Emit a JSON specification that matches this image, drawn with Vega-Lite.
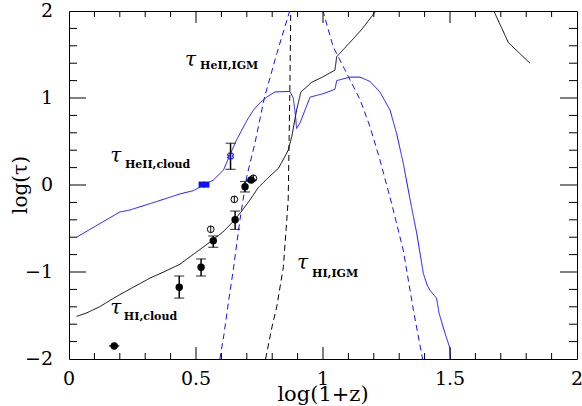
{
  "$schema": "https://vega.github.io/schema/vega-lite/v6.json",
  "width": 508,
  "height": 348,
  "autosize": "none",
  "padding": {"left": 69, "top": 11, "right": 5, "bottom": 47},
  "background": "white",
  "config": {"view": {"stroke": "black", "strokeWidth": 1}},
  "datasets": {
    "curves": [
      {"s": "hic", "o": 1, "x": 0.03, "y": -1.51},
      {"s": "hic", "o": 2, "x": 0.07, "y": -1.47},
      {"s": "hic", "o": 3, "x": 0.12, "y": -1.40},
      {"s": "hic", "o": 4, "x": 0.188, "y": -1.28},
      {"s": "hic", "o": 5, "x": 0.25, "y": -1.18},
      {"s": "hic", "o": 6, "x": 0.319, "y": -1.07},
      {"s": "hic", "o": 7, "x": 0.38, "y": -0.99},
      {"s": "hic", "o": 8, "x": 0.437, "y": -0.91},
      {"s": "hic", "o": 9, "x": 0.516, "y": -0.74},
      {"s": "hic", "o": 10, "x": 0.567, "y": -0.63},
      {"s": "hic", "o": 11, "x": 0.61, "y": -0.53},
      {"s": "hic", "o": 12, "x": 0.646, "y": -0.42},
      {"s": "hic", "o": 13, "x": 0.68, "y": -0.30},
      {"s": "hic", "o": 14, "x": 0.713, "y": -0.17},
      {"s": "hic", "o": 15, "x": 0.745, "y": -0.03},
      {"s": "hic", "o": 16, "x": 0.79, "y": 0.10},
      {"s": "hic", "o": 17, "x": 0.824, "y": 0.19},
      {"s": "hic", "o": 18, "x": 0.845, "y": 0.30},
      {"s": "hic", "o": 19, "x": 0.863, "y": 0.40},
      {"s": "hic", "o": 20, "x": 0.877, "y": 0.555},
      {"s": "hic", "o": 21, "x": 0.896, "y": 0.86},
      {"s": "hic", "o": 22, "x": 0.913, "y": 1.07},
      {"s": "hic", "o": 23, "x": 0.929, "y": 1.11},
      {"s": "hic", "o": 24, "x": 0.955, "y": 1.18},
      {"s": "hic", "o": 25, "x": 1.001, "y": 1.245},
      {"s": "hic", "o": 26, "x": 1.047, "y": 1.32},
      {"s": "hic", "o": 27, "x": 1.054, "y": 1.475},
      {"s": "hic", "o": 28, "x": 1.1, "y": 1.62},
      {"s": "hic", "o": 29, "x": 1.15, "y": 1.78},
      {"s": "hic", "o": 30, "x": 1.211, "y": 2.01},
      {"s": "hic2", "o": 1, "x": 1.671, "y": 2.01},
      {"s": "hic2", "o": 2, "x": 1.73, "y": 1.636},
      {"s": "hic2", "o": 3, "x": 1.815, "y": 1.40},
      {"s": "hec", "o": 1, "x": 0.03, "y": -0.60},
      {"s": "hec", "o": 2, "x": 0.1, "y": -0.48},
      {"s": "hec", "o": 3, "x": 0.2, "y": -0.31},
      {"s": "hec", "o": 4, "x": 0.24, "y": -0.287},
      {"s": "hec", "o": 5, "x": 0.345, "y": -0.19},
      {"s": "hec", "o": 6, "x": 0.44, "y": -0.10},
      {"s": "hec", "o": 7, "x": 0.49, "y": -0.065},
      {"s": "hec", "o": 8, "x": 0.53, "y": 0.0},
      {"s": "hec", "o": 9, "x": 0.568, "y": 0.057},
      {"s": "hec", "o": 10, "x": 0.608, "y": 0.17},
      {"s": "hec", "o": 11, "x": 0.634, "y": 0.35},
      {"s": "hec", "o": 12, "x": 0.66, "y": 0.52},
      {"s": "hec", "o": 13, "x": 0.673, "y": 0.59},
      {"s": "hec", "o": 14, "x": 0.70, "y": 0.74},
      {"s": "hec", "o": 15, "x": 0.726, "y": 0.86},
      {"s": "hec", "o": 16, "x": 0.75, "y": 0.94},
      {"s": "hec", "o": 17, "x": 0.778, "y": 1.01},
      {"s": "hec", "o": 18, "x": 0.811, "y": 1.07},
      {"s": "hec", "o": 19, "x": 0.87, "y": 1.075},
      {"s": "hec", "o": 20, "x": 0.883, "y": 1.0},
      {"s": "hec", "o": 21, "x": 0.892, "y": 0.79},
      {"s": "hec", "o": 22, "x": 0.896, "y": 0.65},
      {"s": "hec", "o": 23, "x": 0.909, "y": 0.71},
      {"s": "hec", "o": 24, "x": 0.929, "y": 0.86},
      {"s": "hec", "o": 25, "x": 0.949, "y": 1.01},
      {"s": "hec", "o": 26, "x": 1.001, "y": 1.05},
      {"s": "hec", "o": 27, "x": 1.047, "y": 1.10},
      {"s": "hec", "o": 28, "x": 1.054, "y": 1.20},
      {"s": "hec", "o": 29, "x": 1.106, "y": 1.24},
      {"s": "hec", "o": 30, "x": 1.146, "y": 1.24},
      {"s": "hec", "o": 31, "x": 1.185, "y": 1.19},
      {"s": "hec", "o": 32, "x": 1.224, "y": 1.07},
      {"s": "hec", "o": 33, "x": 1.264, "y": 0.86},
      {"s": "hec", "o": 34, "x": 1.29, "y": 0.59},
      {"s": "hec", "o": 35, "x": 1.316, "y": 0.25},
      {"s": "hec", "o": 36, "x": 1.343, "y": -0.17},
      {"s": "hec", "o": 37, "x": 1.369, "y": -0.555},
      {"s": "hec", "o": 38, "x": 1.395, "y": -1.015},
      {"s": "hec", "o": 39, "x": 1.41, "y": -1.15},
      {"s": "hec", "o": 40, "x": 1.421, "y": -1.21},
      {"s": "hec", "o": 41, "x": 1.441, "y": -1.28},
      {"s": "hec", "o": 42, "x": 1.447, "y": -1.30},
      {"s": "hec", "o": 43, "x": 1.457, "y": -1.475},
      {"s": "hec", "o": 44, "x": 1.48, "y": -1.7},
      {"s": "hec", "o": 45, "x": 1.5, "y": -1.88},
      {"s": "hec", "o": 46, "x": 1.502, "y": -2.0},
      {"s": "hei1", "o": 1, "x": 0.594, "y": -2.0},
      {"s": "hei1", "o": 2, "x": 0.61, "y": -1.72},
      {"s": "hei1", "o": 3, "x": 0.627, "y": -1.36},
      {"s": "hei1", "o": 4, "x": 0.647, "y": -0.97},
      {"s": "hei1", "o": 5, "x": 0.673, "y": -0.40},
      {"s": "hei1", "o": 6, "x": 0.70, "y": 0.10},
      {"s": "hei1", "o": 7, "x": 0.732, "y": 0.48},
      {"s": "hei1", "o": 8, "x": 0.769, "y": 1.0},
      {"s": "hei1", "o": 9, "x": 0.818, "y": 1.51},
      {"s": "hei1", "o": 10, "x": 0.870, "y": 2.01},
      {"s": "hei2", "o": 1, "x": 0.999, "y": 2.01},
      {"s": "hei2", "o": 2, "x": 1.04, "y": 1.59},
      {"s": "hei2", "o": 3, "x": 1.1, "y": 1.245},
      {"s": "hei2", "o": 4, "x": 1.146, "y": 0.98},
      {"s": "hei2", "o": 5, "x": 1.185, "y": 0.67},
      {"s": "hei2", "o": 6, "x": 1.224, "y": 0.29},
      {"s": "hei2", "o": 7, "x": 1.27, "y": -0.21},
      {"s": "hei2", "o": 8, "x": 1.316, "y": -0.75},
      {"s": "hei2", "o": 9, "x": 1.356, "y": -1.44},
      {"s": "hei2", "o": 10, "x": 1.392, "y": -2.0},
      {"s": "hii", "o": 1, "x": 0.774, "y": -2.0},
      {"s": "hii", "o": 2, "x": 0.80, "y": -1.62},
      {"s": "hii", "o": 3, "x": 0.818, "y": -1.40},
      {"s": "hii", "o": 4, "x": 0.835, "y": -1.10},
      {"s": "hii", "o": 5, "x": 0.844, "y": -0.94},
      {"s": "hii", "o": 6, "x": 0.855, "y": -0.50},
      {"s": "hii", "o": 7, "x": 0.863, "y": -0.17},
      {"s": "hii", "o": 8, "x": 0.866, "y": 0.40},
      {"s": "hii", "o": 9, "x": 0.870, "y": 1.2},
      {"s": "hii", "o": 10, "x": 0.873, "y": 2.01}
    ],
    "pts": [
      {"k": "hi", "x": 0.178, "y": -1.85, "lo": -1.85, "hi": -1.85},
      {"k": "hi", "x": 0.434, "y": -1.176, "lo": -1.30, "hi": -1.046},
      {"k": "hi", "x": 0.52, "y": -0.946, "lo": -1.046, "hi": -0.85},
      {"k": "hi", "x": 0.568, "y": -0.64, "lo": -0.716, "hi": -0.586},
      {"k": "hi", "x": 0.654, "y": -0.40, "lo": -0.51, "hi": -0.30},
      {"k": "hi", "x": 0.693, "y": -0.02, "lo": -0.08, "hi": 0.04},
      {"k": "hi", "x": 0.717, "y": 0.057, "lo": 0.057, "hi": 0.057},
      {"k": "he", "x": 0.636, "y": 0.333, "lo": 0.18, "hi": 0.48}
    ],
    "open": [
      {"x": 0.558, "y": -0.509},
      {"x": 0.651, "y": -0.165},
      {"x": 0.726, "y": 0.077}
    ],
    "sq": [
      {"x": 0.522, "y": 0.005},
      {"x": 0.541, "y": 0.005}
    ],
    "xt": [
      {"v": 0.5, "major": 1}, {"v": 1, "major": 1}, {"v": 1.5, "major": 1},
      {"v": 0.1, "major": 0}, {"v": 0.2, "major": 0}, {"v": 0.3, "major": 0}, {"v": 0.4, "major": 0},
      {"v": 0.6, "major": 0}, {"v": 0.7, "major": 0}, {"v": 0.8, "major": 0}, {"v": 0.9, "major": 0},
      {"v": 1.1, "major": 0}, {"v": 1.2, "major": 0}, {"v": 1.3, "major": 0}, {"v": 1.4, "major": 0},
      {"v": 1.6, "major": 0}, {"v": 1.7, "major": 0}, {"v": 1.8, "major": 0}, {"v": 1.9, "major": 0}
    ],
    "yt": [
      {"v": -1, "major": 1}, {"v": 0, "major": 1}, {"v": 1, "major": 1},
      {"v": -1.8, "major": 0}, {"v": -1.6, "major": 0}, {"v": -1.4, "major": 0}, {"v": -1.2, "major": 0},
      {"v": -0.8, "major": 0}, {"v": -0.6, "major": 0}, {"v": -0.4, "major": 0}, {"v": -0.2, "major": 0},
      {"v": 0.2, "major": 0}, {"v": 0.4, "major": 0}, {"v": 0.6, "major": 0}, {"v": 0.8, "major": 0},
      {"v": 1.2, "major": 0}, {"v": 1.4, "major": 0}, {"v": 1.6, "major": 0}, {"v": 1.8, "major": 0}
    ],
    "xl": [
      {"v": 0, "t": "0"}, {"v": 0.5, "t": "0.5"}, {"v": 1, "t": "1"}, {"v": 1.5, "t": "1.5"}, {"v": 2, "t": "2"}
    ],
    "yl": [
      {"v": -2, "t": "−2"}, {"v": -1, "t": "−1"}, {"v": 0, "t": "0"}, {"v": 1, "t": "1"}, {"v": 2, "t": "2"}
    ],
    "titles": [
      {"k": "x", "t": "log(1+z)"},
      {"k": "y", "t": "log(τ)"}
    ],
    "taus": [
      {"x": 0.457, "y": 1.37, "t": "τ", "sub": "HeII,IGM", "xs": 0.516, "ys": 1.33},
      {"x": 0.162, "y": 0.26, "t": "τ", "sub": "HeII,cloud", "xs": 0.22, "ys": 0.20},
      {"x": 0.162, "y": -1.48, "t": "τ", "sub": "HI,cloud", "xs": 0.216, "ys": -1.55},
      {"x": 0.898, "y": -0.97, "t": "τ", "sub": "HI,IGM", "xs": 0.957, "ys": -1.06}
    ]
  },
  "layer": [
    {
      "data": {"name": "curves"},
      "mark": {"type": "line", "clip": true, "strokeWidth": 1},
      "encoding": {
        "x": {"field": "x", "type": "quantitative", "axis": null, "scale": {"domain": [0, 2], "nice": false, "zero": false}},
        "y": {"field": "y", "type": "quantitative", "axis": null, "scale": {"domain": [-2, 2], "nice": false, "zero": false}},
        "detail": {"field": "s"},
        "order": {"field": "o", "type": "quantitative"},
        "color": {
          "field": "s", "type": "nominal", "legend": null,
          "scale": {"domain": ["hic", "hic2", "hec", "hei1", "hei2", "hii"], "range": ["black", "black", "#1010ff", "#1010ff", "#1010ff", "black"]}
        },
        "strokeDash": {
          "field": "s", "type": "nominal", "legend": null,
          "scale": {"domain": ["hic", "hic2", "hec", "hei1", "hei2", "hii"], "range": [[1, 0], [1, 0], [1, 0], [6, 4], [6, 4], [6, 4]]}
        }
      }
    },
    {
      "data": {"name": "xt"},
      "transform": [{"filter": "datum.major == 1"}],
      "mark": {"type": "tick", "orient": "vertical", "size": 12, "thickness": 1, "color": "black", "opacity": 1, "yOffset": -6},
      "encoding": {
        "x": {"field": "v", "type": "quantitative", "axis": null},
        "y": {"datum": -2, "type": "quantitative", "axis": null}
      }
    },
    {
      "data": {"name": "xt"},
      "transform": [{"filter": "datum.major == 1"}],
      "mark": {"type": "tick", "orient": "vertical", "size": 12, "thickness": 1, "color": "black", "opacity": 1, "yOffset": 6},
      "encoding": {
        "x": {"field": "v", "type": "quantitative", "axis": null},
        "y": {"datum": 2, "type": "quantitative", "axis": null}
      }
    },
    {
      "data": {"name": "xt"},
      "transform": [{"filter": "datum.major == 0"}],
      "mark": {"type": "tick", "orient": "vertical", "size": 6, "thickness": 1, "color": "black", "opacity": 1, "yOffset": -3},
      "encoding": {
        "x": {"field": "v", "type": "quantitative", "axis": null},
        "y": {"datum": -2, "type": "quantitative", "axis": null}
      }
    },
    {
      "data": {"name": "xt"},
      "transform": [{"filter": "datum.major == 0"}],
      "mark": {"type": "tick", "orient": "vertical", "size": 6, "thickness": 1, "color": "black", "opacity": 1, "yOffset": 3},
      "encoding": {
        "x": {"field": "v", "type": "quantitative", "axis": null},
        "y": {"datum": 2, "type": "quantitative", "axis": null}
      }
    },
    {
      "data": {"name": "yt"},
      "transform": [{"filter": "datum.major == 1"}],
      "mark": {"type": "tick", "orient": "horizontal", "size": 17, "thickness": 1, "color": "black", "opacity": 1, "xOffset": 8.5},
      "encoding": {
        "y": {"field": "v", "type": "quantitative", "axis": null},
        "x": {"datum": 0, "type": "quantitative", "axis": null}
      }
    },
    {
      "data": {"name": "yt"},
      "transform": [{"filter": "datum.major == 1"}],
      "mark": {"type": "tick", "orient": "horizontal", "size": 17, "thickness": 1, "color": "black", "opacity": 1, "xOffset": -8.5},
      "encoding": {
        "y": {"field": "v", "type": "quantitative", "axis": null},
        "x": {"datum": 2, "type": "quantitative", "axis": null}
      }
    },
    {
      "data": {"name": "yt"},
      "transform": [{"filter": "datum.major == 0"}],
      "mark": {"type": "tick", "orient": "horizontal", "size": 8, "thickness": 1, "color": "black", "opacity": 1, "xOffset": 4},
      "encoding": {
        "y": {"field": "v", "type": "quantitative", "axis": null},
        "x": {"datum": 0, "type": "quantitative", "axis": null}
      }
    },
    {
      "data": {"name": "yt"},
      "transform": [{"filter": "datum.major == 0"}],
      "mark": {"type": "tick", "orient": "horizontal", "size": 8, "thickness": 1, "color": "black", "opacity": 1, "xOffset": -4},
      "encoding": {
        "y": {"field": "v", "type": "quantitative", "axis": null},
        "x": {"datum": 2, "type": "quantitative", "axis": null}
      }
    },
    {
      "data": {"name": "xl"},
      "mark": {"type": "text", "font": "DejaVu Serif", "fontSize": 19, "color": "black", "align": "center", "baseline": "top", "dy": 11},
      "encoding": {
        "x": {"field": "v", "type": "quantitative", "axis": null},
        "y": {"datum": -2, "type": "quantitative", "axis": null},
        "text": {"field": "t"}
      }
    },
    {
      "data": {"name": "yl"},
      "mark": {"type": "text", "font": "DejaVu Serif", "fontSize": 19, "color": "black", "align": "right", "baseline": "middle", "dx": -16},
      "encoding": {
        "y": {"field": "v", "type": "quantitative", "axis": null},
        "x": {"datum": 0, "type": "quantitative", "axis": null},
        "text": {"field": "t"}
      }
    },
    {
      "data": {"name": "titles"},
      "transform": [{"filter": "datum.k == 'x'"}],
      "mark": {"type": "text", "font": "DejaVu Serif", "fontSize": 21, "color": "black", "align": "center", "baseline": "alphabetic", "dy": 42},
      "encoding": {
        "x": {"datum": 1, "type": "quantitative", "axis": null},
        "y": {"datum": -2, "type": "quantitative", "axis": null},
        "text": {"field": "t"}
      }
    },
    {
      "data": {"name": "titles"},
      "transform": [{"filter": "datum.k == 'y'"}],
      "mark": {"type": "text", "font": "DejaVu Serif", "fontSize": 20, "color": "black", "align": "center", "baseline": "alphabetic", "angle": 270},
      "encoding": {
        "x": {"datum": -0.1654, "type": "quantitative", "axis": null},
        "y": {"datum": 0, "type": "quantitative", "axis": null},
        "text": {"field": "t"}
      }
    },
    {
      "data": {"name": "pts"},
      "mark": {"type": "rule", "strokeWidth": 1.5},
      "encoding": {
        "x": {"field": "x", "type": "quantitative", "axis": null},
        "y": {"field": "lo", "type": "quantitative", "axis": null},
        "y2": {"field": "hi"},
        "color": {"field": "k", "type": "nominal", "legend": null, "scale": {"domain": ["hi", "he"], "range": ["#333333", "#1010ff"]}}
      }
    },
    {
      "data": {"name": "pts"},
      "mark": {"type": "tick", "orient": "horizontal", "size": 10, "thickness": 1.2},
      "encoding": {
        "x": {"field": "x", "type": "quantitative", "axis": null},
        "y": {"field": "lo", "type": "quantitative", "axis": null},
        "color": {"field": "k", "type": "nominal", "legend": null, "scale": {"domain": ["hi", "he"], "range": ["#333333", "#1010ff"]}}
      }
    },
    {
      "data": {"name": "pts"},
      "mark": {"type": "tick", "orient": "horizontal", "size": 10, "thickness": 1.2},
      "encoding": {
        "x": {"field": "x", "type": "quantitative", "axis": null},
        "y": {"field": "hi", "type": "quantitative", "axis": null},
        "color": {"field": "k", "type": "nominal", "legend": null, "scale": {"domain": ["hi", "he"], "range": ["#333333", "#1010ff"]}}
      }
    },
    {
      "data": {"name": "pts"},
      "transform": [{"filter": "datum.k == 'hi'"}],
      "mark": {"type": "point", "shape": "circle", "filled": true, "size": 55, "color": "black", "opacity": 1},
      "encoding": {
        "x": {"field": "x", "type": "quantitative", "axis": null},
        "y": {"field": "y", "type": "quantitative", "axis": null}
      }
    },
    {
      "data": {"name": "pts"},
      "transform": [{"filter": "datum.k == 'he'"}],
      "mark": {"type": "point", "shape": "cross", "filled": false, "size": 40, "color": "#1010ff", "strokeWidth": 1, "opacity": 1, "angle": 45},
      "encoding": {
        "x": {"field": "x", "type": "quantitative", "axis": null},
        "y": {"field": "y", "type": "quantitative", "axis": null}
      }
    },
    {
      "data": {"name": "open"},
      "mark": {"type": "point", "shape": "circle", "filled": false, "size": 45, "color": "black", "strokeWidth": 1, "opacity": 1},
      "encoding": {
        "x": {"field": "x", "type": "quantitative", "axis": null},
        "y": {"field": "y", "type": "quantitative", "axis": null}
      }
    },
    {
      "data": {"name": "open"},
      "mark": {"type": "point", "shape": "stroke", "filled": false, "size": 45, "color": "black", "strokeWidth": 1, "opacity": 1, "angle": 90},
      "encoding": {
        "x": {"field": "x", "type": "quantitative", "axis": null},
        "y": {"field": "y", "type": "quantitative", "axis": null}
      }
    },
    {
      "data": {"name": "sq"},
      "mark": {"type": "square", "size": 30, "color": "#1010ff", "opacity": 1, "stroke": "#1010ff", "strokeWidth": 0.5},
      "encoding": {
        "x": {"field": "x", "type": "quantitative", "axis": null},
        "y": {"field": "y", "type": "quantitative", "axis": null}
      }
    },
    {
      "data": {"name": "taus"},
      "mark": {"type": "text", "font": "DejaVu Serif", "fontStyle": "italic", "fontSize": 20, "align": "left", "baseline": "alphabetic", "color": "black"},
      "encoding": {
        "x": {"field": "x", "type": "quantitative", "axis": null},
        "y": {"field": "y", "type": "quantitative", "axis": null},
        "text": {"field": "t"}
      }
    },
    {
      "data": {"name": "taus"},
      "mark": {"type": "text", "font": "DejaVu Serif", "fontWeight": "bold", "fontSize": 11, "align": "left", "baseline": "alphabetic", "color": "black"},
      "encoding": {
        "x": {"field": "xs", "type": "quantitative", "axis": null},
        "y": {"field": "ys", "type": "quantitative", "axis": null},
        "text": {"field": "sub"}
      }
    }
  ]
}
